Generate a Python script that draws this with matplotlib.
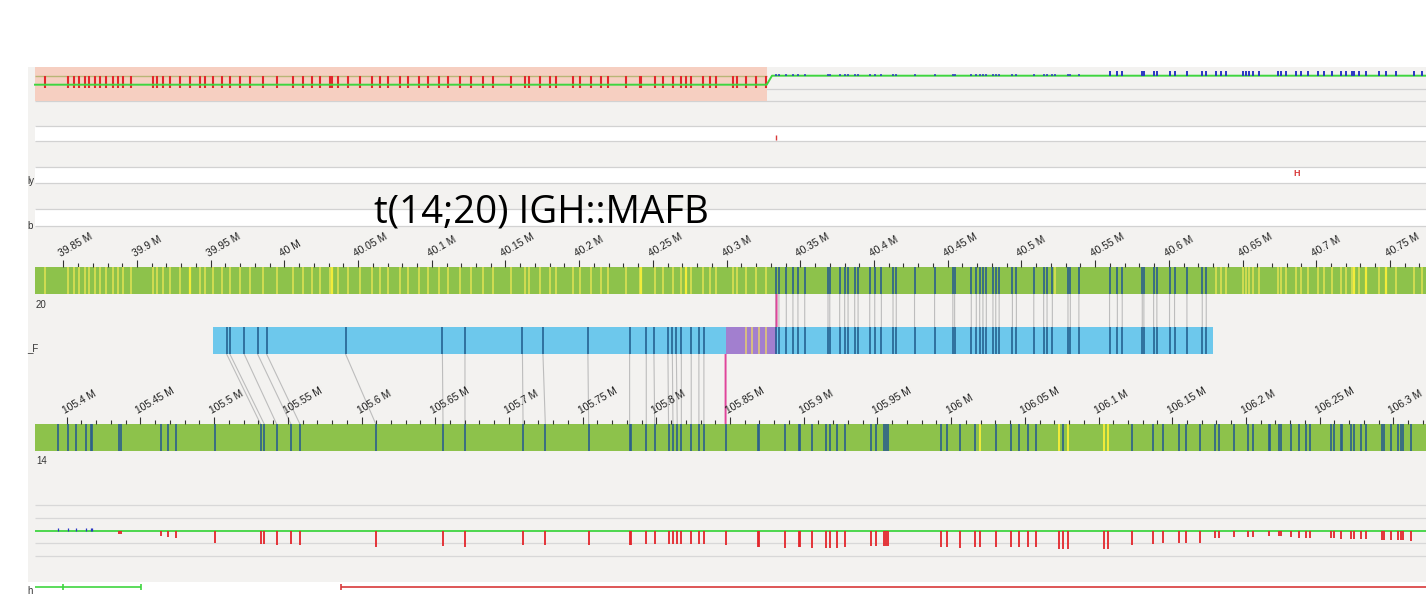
import numpy as np
import matplotlib
matplotlib.use("Agg")
import matplotlib.pyplot as plt
from matplotlib.patches import Rectangle, ConnectionPatch
from matplotlib.transforms import ScaledTranslation

# ---------------- data (positions in Mb) ----------------
chr20_view = (39.80706, 40.77449)
chr14_view = (105.35475, 106.32218)
chr20_start = 39.8308
chr14_start = 105.3785

chr20_major = [39.85, 39.90, 39.95, 40.00, 40.05, 40.10, 40.15, 40.20, 40.25, 40.30,
               40.35, 40.40, 40.45, 40.50, 40.55, 40.60, 40.65, 40.70, 40.75]
chr14_major = [105.40, 105.45, 105.50, 105.55, 105.60, 105.65, 105.70, 105.75, 105.80, 105.85,
               105.90, 105.95, 106.00, 106.05, 106.10, 106.15, 106.20, 106.25, 106.30]

# chr20 reference labels outside the alignment (yellow)
chr20_unaligned_left = [39.8376, 39.8534, 39.8573, 39.8606, 39.8647, 39.8676, 39.8715, 39.8749,
                        39.8790, 39.8835, 39.8873, 39.8907, 39.8959, 39.9110, 39.9133, 39.9178,
                        39.9223, 39.9291, 39.9359, 39.9427, 39.9461, 39.9517, 39.9574, 39.9630,
                        39.9698, 39.9766, 39.9856, 39.9947, 40.0060, 40.0127, 40.0184, 40.0240,
                        40.0308, 40.0324, 40.0365, 40.0432, 40.0512, 40.0591, 40.0647, 40.0704,
                        40.0783, 40.0839, 40.0914, 40.0975, 40.1049, 40.1110, 40.1190, 40.1269,
                        40.1344, 40.1415, 40.1540, 40.1630, 40.1659, 40.1732, 40.1800, 40.1845,
                        40.1958, 40.2003, 40.2083, 40.2150, 40.2195, 40.2315, 40.2410, 40.2422,
                        40.2512, 40.2568, 40.2636, 40.2693, 40.2722, 40.2761, 40.2839, 40.2889,
                        40.2930, 40.3043, 40.3070, 40.3133, 40.3201, 40.3269]
chr20_bright = [39.9359, 40.0324, 40.2422, 40.2722]
chr20_unaligned_right = [40.5225, 40.6320, 40.6354, 40.6388, 40.6501, 40.6524, 40.6546, 40.6573,
                         40.6614, 40.6738, 40.6761, 40.6795, 40.6863, 40.6897, 40.6941, 40.7009,
                         40.7054, 40.7110, 40.7168, 40.7201, 40.7246, 40.7258, 40.7287, 40.7337,
                         40.7427, 40.7472, 40.7540, 40.7664, 40.7720]
chr20_bright_right = [40.7258, 40.7337, 40.7472]
# chr20 labels aligned to the optical map (dark blue)
chr20_aligned = [40.3333, 40.3355, 40.3405, 40.3450, 40.3484, 40.3530, 40.3688, 40.3700,
                 40.3767, 40.3801, 40.3824, 40.3869, 40.3892, 40.3971, 40.4005, 40.4050,
                 40.4129, 40.4151, 40.4275, 40.4411, 40.4535, 40.4547, 40.4660, 40.4694,
                 40.4717, 40.4739, 40.4762, 40.4807, 40.4826, 40.4849, 40.4939, 40.4966,
                 40.5084, 40.5151, 40.5174, 40.5210, 40.5316, 40.5332, 40.5390, 40.5598,
                 40.5651, 40.5684, 40.5820, 40.5831, 40.5897, 40.5919, 40.6005, 40.6039,
                 40.6123, 40.6227, 40.6254]

# optical map (drawn in chr20 frame)
map_span = (39.9515, 40.6301)
map_purple = (40.2993, 40.3339)
map_purple_labels = [40.3133, 40.3171, 40.3219, 40.3269]
map_left = [39.9608, 39.9630, 39.9727, 39.9818, 39.9879, 40.0415, 40.1072, 40.1225, 40.1615,
            40.1754, 40.2059, 40.2342, 40.2455, 40.2507, 40.2602, 40.2632, 40.2659, 40.2693,
            40.2760, 40.2812, 40.2846]
chr14_match = [105.5315, 105.5340, 105.5424, 105.5521, 105.5582, 105.6097, 105.6553, 105.6702,
               105.7096, 105.7247, 105.7541, 105.7819, 105.7932, 105.7989, 105.8083, 105.8113,
               105.8142, 105.8170, 105.8237, 105.8289, 105.8323]

# chr14 reference labels
chr14_labels = [105.3943, 105.4011, 105.4063, 105.4131, 105.4163, 105.4173, 105.4352, 105.4366,
                105.4639, 105.4685, 105.4739, 105.5005, 105.5315, 105.5340, 105.5424, 105.5521,
                105.5582, 105.6097, 105.6553, 105.6702, 105.7096, 105.7247, 105.7541, 105.7819,
                105.7826, 105.7932, 105.7989, 105.8083, 105.8113, 105.8142, 105.8170, 105.8237,
                105.8289, 105.8323, 105.8470, 105.8689, 105.8696, 105.8870, 105.8965, 105.8972,
                105.9055, 105.9153, 105.9180, 105.9227, 105.9281, 105.9458, 105.9492, 105.9543,
                105.9555, 105.9570, 105.9932, 105.9973, 106.0057, 106.0165, 106.0305, 106.0407,
                106.0463, 106.0524, 106.0577, 106.0757, 106.1227, 106.1372, 106.1440, 106.1543,
                106.1594, 106.1688, 106.1792, 106.1815, 106.1921, 106.2016, 106.2045, 106.2154,
                106.2163, 106.2226, 106.2238, 106.2305, 106.2357, 106.2411, 106.2434, 106.2577,
                106.2599, 106.2644, 106.2655, 106.2712, 106.2735, 106.2784, 106.2814, 106.2926,
                106.2938, 106.2983, 106.3035, 106.3051, 106.3067, 106.3119]
chr14_yellow = [106.0199, 106.0735, 106.0791, 106.1040, 106.1062]

# breakpoints
bp_chr20 = 40.3339
bp_map = 40.2993
bp_chr14 = 105.8470

# top copy-number track (chr20)
cn_pos = [39.8308, 40.3272, 40.3308, 40.7745]
cn_val = [1, 1, 2, 2]
loss_region = (39.8308, 40.3272)
top_blue_cut = 40.555

# bottom track (chr14): tick depth per label
cov14_up = [105.3943, 105.4011, 105.4063, 105.4131, 105.4163, 105.4173]
cov14_pos = [105.4352, 105.4366, 105.4639, 105.4685, 105.4739, 105.5005, 105.5315, 105.5340,
             105.5424, 105.5521, 105.5582, 105.6097, 105.6553, 105.6702, 105.7096, 105.7247,
             105.7541, 105.7819, 105.7826, 105.7932, 105.7989, 105.8083, 105.8113, 105.8142,
             105.8170, 105.8237, 105.8289, 105.8323, 105.8470, 105.8689, 105.8696, 105.8870,
             105.8965, 105.8972, 105.9055, 105.9153, 105.9180, 105.9227, 105.9281, 105.9458,
             105.9492, 105.9543, 105.9555, 105.9570, 105.9932, 105.9973, 106.0057, 106.0165,
             106.0199, 106.0305, 106.0407, 106.0463, 106.0524, 106.0577, 106.0735, 106.0757,
             106.0791, 106.1040, 106.1062, 106.1227, 106.1372, 106.1440, 106.1543, 106.1594,
             106.1688, 106.1792, 106.1815, 106.1921, 106.2016, 106.2045, 106.2154, 106.2226,
             106.2238, 106.2305, 106.2357, 106.2411, 106.2434, 106.2577, 106.2599, 106.2644,
             106.2712, 106.2735, 106.2784, 106.2814, 106.2926, 106.2938, 106.2983, 106.3035,
             106.3051, 106.3067, 106.3119]
cov14_depth = [3, 3, 5, 6, 7, 12, 13, 13, 14, 13, 14, 16, 15, 16, 14, 14,
               14, 14, 14, 13, 13, 13, 13, 13, 13, 13, 13, 13, 14, 16, 16, 17,
               16, 16, 17, 17, 17, 17, 16, 15, 15, 15, 15, 15, 16, 16, 17, 16,
               16, 16, 16, 16, 16, 16, 18, 18, 18, 18, 18, 14, 13, 12, 12, 12,
               12, 7, 7, 6, 6, 6, 5, 5, 5, 6, 7, 7, 7, 7, 7, 8,
               8, 8, 8, 8, 9, 9, 9, 9, 9, 9, 10]

sv_mark = 40.3335
h_mark = 40.6870
gene_green = (105.3785, 105.3975, 105.4504)
gene_red_start = 105.5861

title = "t(14;20) IGH::MAFB"

# ---------------- styling ----------------
W, H, DPI = 1426, 596, 100
PANEL = '#f3f2f0'
GREEN = '#8dc24b'
YELLOW = '#d6de52'
BRIGHT = '#f2ec3a'
DBLUE = '#2b5f8c'
MAPBLUE = '#6dc8ec'
PURPLE = '#a27fcf'
GRAYLN = '#bdbdbd'
PINK = '#e0459b'
RED = '#e3262b'
TBLUE = '#2a36c4'
CNGREEN = '#3fd540'
SALMON = '#f6cfc1'

fig = plt.figure(figsize=(W / DPI, H / DPI), dpi=DPI)
fig.patch.set_facecolor('white')


def band(y0, y1, view, ylim=(0, 1), z=3):
    ax = fig.add_axes([0, 1 - y1 / H, 1, (y1 - y0) / H], zorder=z)
    ax.set_xlim(*view)
    ax.set_ylim(*ylim)
    ax.patch.set_visible(False)
    for s in ax.spines.values():
        s.set_visible(False)
    ax.set_xticks([])
    ax.set_yticks([])
    return ax


def ruler(ax, majors, view):
    ax.xaxis.set_ticks_position('top')
    ax.set_xticks(majors)
    ax.set_xticklabels([f"{m:g} M" for m in majors])
    minors = np.round(np.arange(majors[0], view[1], 0.01), 2)
    ax.set_xticks(minors, minor=True)
    ax.tick_params(axis='x', which='major', direction='out', length=5, width=0.8,
                   color='#333333', pad=1.0, labelsize=7.4, labelcolor='#1e1e1e',
                   top=True, bottom=False, labeltop=True, labelbottom=False)
    ax.tick_params(axis='x', which='minor', direction='out', length=2.6, width=0.8,
                   color='#333333', top=True, bottom=False)
    shift = ScaledTranslation(-1 / DPI, 0, fig.dpi_scale_trans)
    for lab in ax.get_xticklabels():
        lab.set_rotation(30)
        lab.set_ha('left')
        lab.set_va('bottom')
        lab.set_rotation_mode('anchor')
        lab.set_fontfamily('Liberation Sans')
        lab.set_transform(lab.get_transform() + shift)


# ---------------- background / layout ----------------
bg = fig.add_axes([0, 0, 1, 1], zorder=0)
bg.set_xlim(0, W)
bg.set_ylim(H, 0)
bg.axis('off')
bg.add_patch(Rectangle((28, 67), W - 28, 582 - 67, fc=PANEL, ec='none'))
for a, b in [(126, 141), (167, 183), (209, 226)]:
    bg.add_patch(Rectangle((35, a), W - 35, b - a, fc='white', ec='none'))
bg.hlines([88.7, 101, 126, 141, 167, 183, 209, 226], 35, W, color='#d2d2d2', lw=0.9)
bg.hlines([505, 518, 543, 556], 35, W, color='#d8d8d8', lw=0.9)
lab_kw = dict(fontsize=7, color='#333333', family='Liberation Sans')
bg.text(27, 184, 'ly', va='baseline', ha='left', **lab_kw)
bg.text(27, 229, 'b', va='baseline', ha='left', **lab_kw)
bg.text(27, 351, '_F', va='baseline', ha='left', **lab_kw)
bg.text(36, 308, '20', va='baseline', ha='left', **lab_kw)
bg.text(36, 464, '14', va='baseline', ha='left', **lab_kw)
bg.text(27, 594, 'h', va='baseline', ha='left', **lab_kw)
bg.text(374, 223, title, fontsize=27.6, family=['Open Sans', 'DejaVu Sans'],
        color='black', va='baseline', ha='left')

# ---------------- top copy-number track (chr20 frame) ----------------
top = band(67, 101.3, chr20_view, ylim=(2 - 25.6 / 9, 2 + 8.7 / 9))
top.axvspan(*loss_region, color=SALMON, lw=0)
top.hlines(2, loss_region[0], loss_region[1], color='#b9b676', lw=1.0)
top.vlines(chr20_unaligned_left, 0.65, 2, color=RED, lw=1.5)
top.plot(cn_pos, cn_val, color=CNGREEN, lw=1.4)
right_labels = sorted(chr20_aligned + chr20_unaligned_right)
top.vlines([p for p in right_labels if p < top_blue_cut], 2, 2.2, color=TBLUE, lw=1.1)
top.vlines([p for p in right_labels if p >= top_blue_cut], 2, 2.55, color=TBLUE, lw=1.4)

ov20 = band(0, H, chr20_view, ylim=(H, 0), z=4)
ov20.vlines([sv_mark], 135, 140, color='#d93a3a', lw=1.0)
ov20.text(h_mark, 174, 'H', color='#d93a3a', fontsize=6.5, fontweight='bold',
          ha='center', va='center', family='Liberation Sans')

# ---------------- chr20 reference track ----------------
ax20 = band(267, 294, chr20_view)
ax20.axvspan(chr20_start, chr20_view[1], color=GREEN, lw=0)
ax20.vlines(chr20_unaligned_left + chr20_unaligned_right, 0, 1, color=YELLOW, lw=1.3)
ax20.vlines(chr20_bright + chr20_bright_right, 0, 1, color=BRIGHT, lw=1.6)
ax20.vlines(chr20_aligned, 0, 1, color=DBLUE, lw=1.2)
ruler(ax20, chr20_major, chr20_view)

# ---------------- optical map ----------------
axm = band(327, 354, chr20_view)
axm.axvspan(*map_span, color=MAPBLUE, lw=0)
axm.axvspan(*map_purple, color=PURPLE, lw=0)
axm.vlines(map_left + chr20_aligned, 0, 1, color='#1f5a8a', lw=1.1)
axm.vlines(map_purple_labels, 0, 1, color='#e6cf6c', lw=1.1)

# ---------------- chr14 reference track ----------------
ax14 = band(424, 451, chr14_view)
ax14.axvspan(chr14_start, chr14_view[1], color=GREEN, lw=0)
ax14.vlines(chr14_labels, 0, 1, color=DBLUE, lw=1.2)
ax14.vlines(chr14_yellow, 0, 1, color=BRIGHT, lw=1.4)
ruler(ax14, chr14_major, chr14_view)

# ---------------- alignment lines ----------------
for p in chr20_aligned:
    fig.add_artist(ConnectionPatch(xyA=(p, 1), coordsA=axm.transData, xyB=(p, 0),
                                   coordsB=ax20.transData, color=GRAYLN, lw=0.8, zorder=2))
for m, c in zip(map_left, chr14_match):
    fig.add_artist(ConnectionPatch(xyA=(m, 0), coordsA=axm.transData, xyB=(c, 1),
                                   coordsB=ax14.transData, color=GRAYLN, lw=0.8, zorder=2))
fig.add_artist(ConnectionPatch(xyA=(bp_chr20, 0), coordsA=ax20.transData, xyB=(bp_chr20, 1),
                               coordsB=axm.transData, color=PINK, lw=1.4, zorder=2.5))
fig.add_artist(ConnectionPatch(xyA=(bp_map, 0), coordsA=axm.transData, xyB=(bp_chr14, 1),
                               coordsB=ax14.transData, color=PINK, lw=1.4, zorder=2.5))

# ---------------- bottom track (chr14 frame) ----------------
bot = band(495, 567, chr14_view, ylim=(-36, 36))
bot.hlines(0, chr14_start, chr14_view[1], color=CNGREEN, lw=1.3)
bot.vlines(cov14_pos, 0, -np.array(cov14_depth), color=RED, lw=1.3)
bot.vlines(cov14_up, 0, 3.5, color=TBLUE, lw=0.9)

ann = band(580, 594, chr14_view, ylim=(-1, 1))
ann.hlines(0, gene_green[0], gene_green[2], color=CNGREEN, lw=1.2)
ann.vlines([gene_green[1], gene_green[2]], -0.45, 0.45, color=CNGREEN, lw=1.2)
ann.hlines(0, gene_red_start, chr14_view[1], color='#d8393a', lw=1.2)
ann.vlines([gene_red_start], -0.45, 0.45, color='#d8393a', lw=1.2)

fig.savefig('out.png', dpi=DPI, facecolor='white')
